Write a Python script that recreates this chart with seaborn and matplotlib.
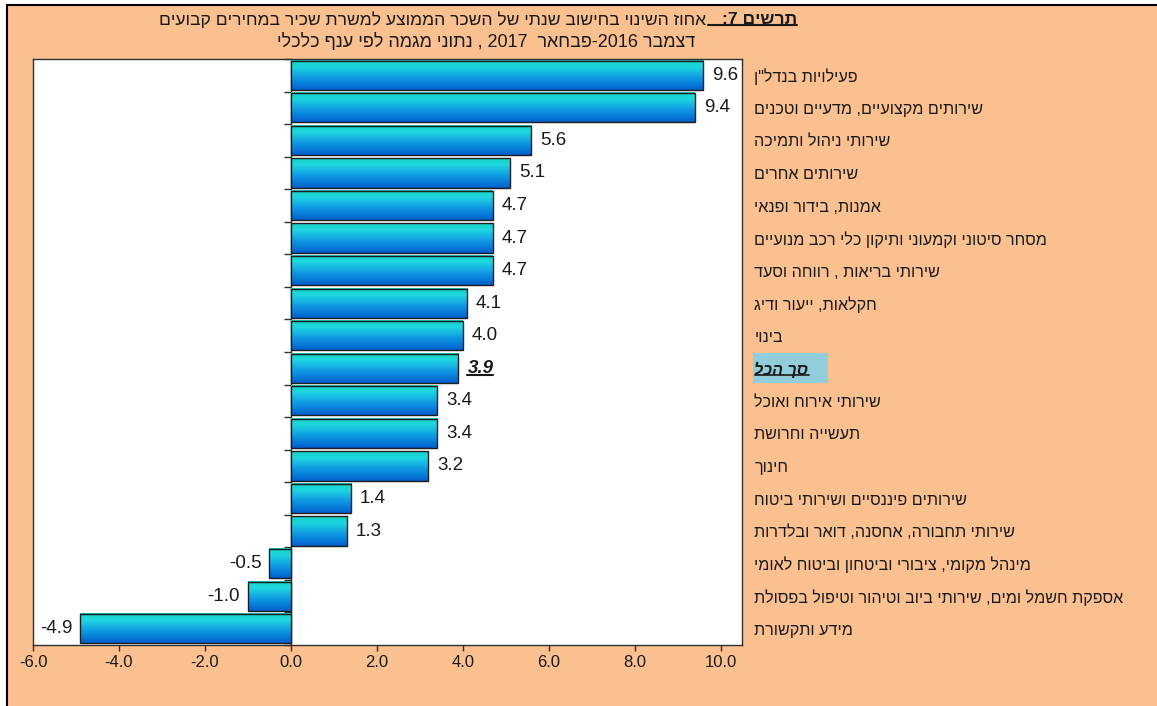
import re
import numpy as np
import pandas as pd
import matplotlib
matplotlib.use("Agg")
import matplotlib.pyplot as plt
import seaborn as sns
from matplotlib.colors import LinearSegmentedColormap
from matplotlib.patches import Rectangle
from matplotlib.lines import Line2D
from matplotlib.transforms import IdentityTransform, blended_transform_factory

# ---------------- data ----------------
categories = [
    'פעילויות בנדל"ן',
    "שירותים מקצועיים, מדעיים וטכנים",
    "שירותי ניהול ותמיכה",
    "שירותים אחרים",
    "אמנות, בידור ופנאי",
    "מסחר סיטוני וקמעוני ותיקון כלי רכב מנועיים",
    "שירותי בריאות , רווחה וסעד",
    "חקלאות, ייעור ודיג",
    "בינוי",
    "סך הכל",
    "שירותי אירוח ואוכל",
    "תעשייה וחרושת",
    "חינוך",
    "שירותים פיננסיים ושירותי ביטוח",
    "שירותי תחבורה, אחסנה, דואר ובלדרות",
    "מינהל מקומי, ציבורי וביטחון וביטוח לאומי",
    "אספקת חשמל ומים, שירותי ביוב וטיהור וטיפול בפסולת",
    "מידע ותקשורת",
]
values = [9.6, 9.4, 5.6, 5.1, 4.7, 4.7, 4.7, 4.1, 4.0, 3.9,
          3.4, 3.4, 3.2, 1.4, 1.3, -0.5, -1.0, -4.9]
total_category = "סך הכל"
x_ticks = [-6.0, -4.0, -2.0, 0.0, 2.0, 4.0, 6.0, 8.0, 10.0]
title_bold = "תרשים 7:"
title_rest = "אחוז השינוי בחישוב שנתי של השכר הממוצע למשרת שכיר במחירים קבועים"
title_line2 = "דצמבר 2016-פבחאר  2017 , נתוני מגמה לפי ענף כלכלי"


def vis(s):
    """Simple visual reordering for right-to-left Hebrew text."""
    r = s[::-1]
    r = re.sub(r"[0-9]+(?:\.[0-9]+)?", lambda m: m.group(0)[::-1], r)
    return r.translate(str.maketrans("()", ")("))


# ---------------- style ----------------
sns.set_style("white")
plt.rcParams["font.family"] = ["Liberation Sans", "DejaVu Sans"]
TXT = "#1a1a1a"
PEACH = "#FAC090"

W, H = 1157, 706
fig = plt.figure(figsize=(W / 100, H / 100), dpi=100, facecolor="white")
fig.add_artist(Rectangle((7 / W, -0.05), 1.2, 1 - 4.5 / H + 0.05,
                         transform=fig.transFigure, facecolor=PEACH,
                         edgecolor="black", lw=1.5, zorder=-10))

ax = fig.add_axes([33 / W, 1 - 645 / H, 709 / W, 586 / H])
ax.set_facecolor("white")

df = pd.DataFrame({"cat": [vis(c) for c in categories], "val": values})
sns.barplot(data=df, y="cat", x="val", orient="h", width=0.9, color="white",
            edgecolor="#1e1e1e", linewidth=1.0, ax=ax)

# gradient fill of every bar
cmap = LinearSegmentedColormap.from_list(
    "bar", [(0.0, "#14CFBF"), (0.22, "#1FD8E0"), (0.6, "#0E98E3"), (1.0, "#005FCC")])
grad = np.linspace(0, 1, 256).reshape(-1, 1)
for p in ax.patches:
    x0, w, y0, h = p.get_x(), p.get_width(), p.get_y(), p.get_height()
    ax.imshow(grad, cmap=cmap, extent=[x0, x0 + w, y0 + h, y0], origin="upper",
              aspect="auto", zorder=1, interpolation="bilinear")
    p.set_facecolor("none")
    p.set_zorder(2)

ax.set_xlim(-6, 10.5)
ax.set_ylim(len(categories) - 0.5, -0.5)
ax.set_xlabel("")
ax.set_ylabel("")

# axis styling
for s in ax.spines.values():
    s.set_visible(True)
    s.set_color("#303030")
    s.set_linewidth(1.0)
ax.set_xticks(x_ticks)
ax.set_xticklabels([f"{t:.1f}" for t in x_ticks])
ax.tick_params(axis="x", length=4.5, width=1, color="#303030", direction="out",
               labelsize=12, labelcolor=TXT, pad=3, bottom=True)
ax.yaxis.tick_right()
ax.tick_params(axis="y", length=0, pad=9, labelsize=11.6, labelcolor=TXT)

# category axis crossing at zero
zero_loc = (0 - (-6)) / (10.5 - (-6))
sec = ax.secondary_yaxis(zero_loc)
sec.set_yticks([k + 0.5 for k in range(-1, len(categories))])
sec.set_yticklabels([])
sec.tick_params(axis="y", length=5, width=1, color="#303030", direction="out")
sec.spines["left"].set_color("#303030")
sec.spines["left"].set_linewidth(1.0)

# value labels
total_idx = categories.index(total_category)
value_texts = []
for i, v in enumerate(values):
    bold = i == total_idx
    t = ax.annotate(f"{v:.1f}", xy=(v, i), xytext=(9 if v >= 0 else -8, 0),
                    textcoords="offset pixels", ha="left" if v >= 0 else "right",
                    va="center", fontsize=13.5, color=TXT,
                    fontweight="bold" if bold else "normal",
                    fontstyle="italic" if bold else "normal")
    value_texts.append(t)

# highlighted total category label
trans = blended_transform_factory(fig.transFigure, ax.transData)
ax.add_patch(Rectangle((753 / W, total_idx - 0.46), 75 / W, 0.92, transform=trans,
                       facecolor="#92CDDC", edgecolor="none", clip_on=False, zorder=0.5))
tl = ax.get_yticklabels()[total_idx]
tl.set_fontweight("bold")
tl.set_fontstyle("italic")

# title
tb = fig.text(797 / W, 1 - 20 / H, vis(title_bold), ha="right", va="center",
              fontsize=12.6, fontweight="bold", color=TXT)
ax.annotate(vis(title_rest), xy=(0, 0.5), xycoords=tb, xytext=(-16, 0),
            textcoords="offset pixels", ha="right", va="center",
            fontsize=12.6, color=TXT, annotation_clip=False)
fig.text(486 / W, 1 - 42 / H, vis(title_line2), ha="center", va="center",
         fontsize=13, color=TXT)

# underlines (need rendered extents)
fig.canvas.draw()
r = fig.canvas.get_renderer()


def underline(artist, extra_left=0, lw=1.2, dy=2):
    bb = artist.get_window_extent(r)
    fig.add_artist(Line2D([bb.x0 - extra_left, bb.x1], [bb.y0 + dy, bb.y0 + dy],
                          transform=IdentityTransform(), color=TXT, lw=lw))


underline(tb, extra_left=14, lw=1.5, dy=3)
underline(value_texts[total_idx], lw=1.5, dy=2)
underline(ax.get_yticklabels()[total_idx], lw=1.2, dy=3)

fig.savefig("out.png", dpi=100, facecolor=fig.get_facecolor())
